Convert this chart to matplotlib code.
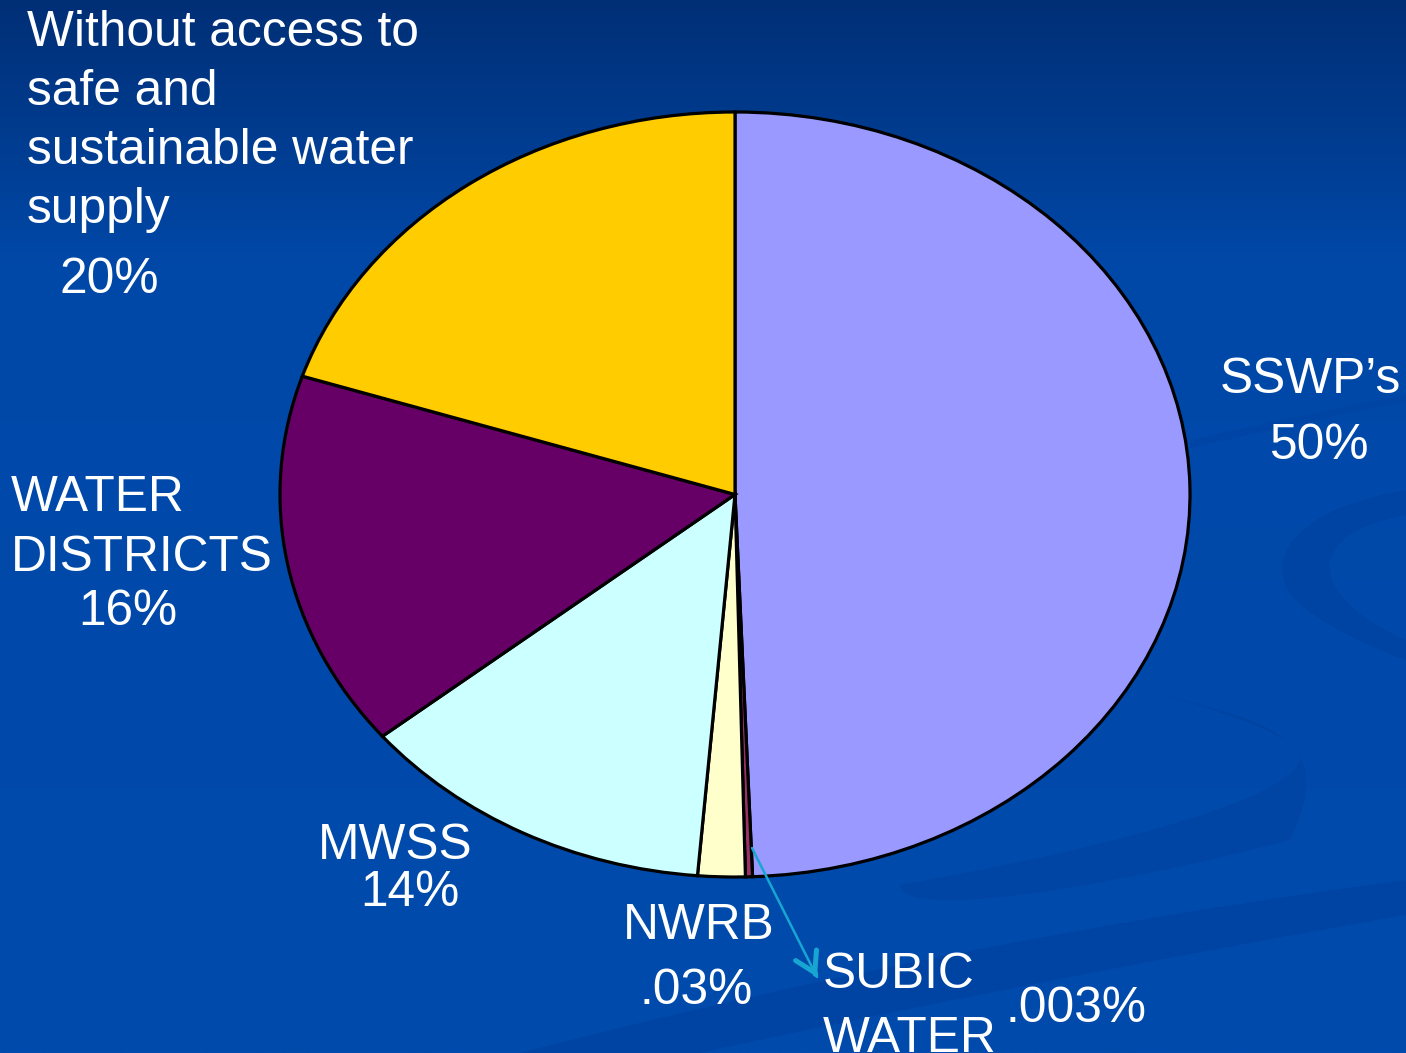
import numpy as np
import matplotlib
matplotlib.use("Agg")
import matplotlib.pyplot as plt
from matplotlib.path import Path
from matplotlib.patches import PathPatch
from matplotlib.colors import to_rgb

# ---- data ----
categories = ["SSWP's", "SUBIC WATER", "NWRB", "MWSS", "WATER DISTRICTS",
              "Without access to safe and sustainable water supply"]
values = [49.4, 0.25, 1.68, 12.8, 15.9, 20.0]
label_pcts = ["50%", ".003%", ".03%", "14%", "16%", "20%"]
slice_colors = ["#9999ff", "#993366", "#ffffcc", "#ccffff", "#660066", "#ffcc00"]

W, H = 1406, 1053
plt.rcParams['font.family'] = ['Liberation Sans', 'DejaVu Sans']
fig = plt.figure(figsize=(W / 100, H / 100), dpi=100)

# ---- background ----
bg = fig.add_axes([0, 0, 1, 1], zorder=0)
bg.set_xlim(0, W)
bg.set_ylim(H, 0)
bg.axis('off')
ys = np.linspace(0, 1, 300)
c_top = np.array(to_rgb("#002f76"))
c_mid = np.array(to_rgb("#0048a8"))
c_bot = np.array(to_rgb("#004bad"))
grad = np.zeros((300, 2, 3))
for i, t in enumerate(ys):
    if t < 0.25:
        c = c_top + (c_mid - c_top) * (t / 0.25)
    else:
        c = c_mid + (c_bot - c_mid) * ((t - 0.25) / 0.75)
    grad[i, :, :] = c
bg.imshow(grad, extent=(0, W, H, 0), aspect='auto', interpolation='bilinear')

swoosh_col = "#00409c"
def band(verts, codes, alpha=0.5):
    bg.add_patch(PathPatch(Path(verts, codes), facecolor=swoosh_col,
                           edgecolor='none', alpha=alpha))

M, C, L, Z = Path.MOVETO, Path.CURVE4, Path.LINETO, Path.CLOSEPOLY
# long lower band
band([(520, 1053), (800, 980), (1100, 920), (1406, 880), (1406, 915),
      (1120, 965), (850, 1020), (700, 1053), (520, 1053)],
     [M, C, C, C, L, C, C, C, Z])
# hook band
band([(900, 885), (1100, 850), (1290, 800), (1300, 760),
      (1305, 735), (1200, 705), (1130, 685),
      (1220, 710), (1330, 740), (1312, 790),
      (1290, 840), (1100, 890), (900, 920), (900, 885)],
     [M, C, C, C, C, C, C, L, C, C, C, C, C, Z], alpha=0.45)
# right-side hook
band([(1406, 490), (1320, 505), (1270, 540), (1285, 585),
      (1295, 610), (1350, 640), (1406, 660),
      (1406, 640), (1360, 620), (1325, 590), (1330, 560),
      (1340, 530), (1380, 520), (1406, 515), (1406, 490)],
     [M, C, C, C, C, C, C, L, C, C, C, C, C, C, Z], alpha=0.45)
# faint upper streaks
band([(1190, 440), (1280, 420), (1350, 405), (1406, 395), (1406, 402),
      (1350, 412), (1280, 428), (1190, 448), (1190, 440)],
     [M, C, C, C, L, C, C, C, Z], alpha=0.3)

# ---- pie (ellipse) ----
left, right, top, bottom = 280, 1190, 112, 877
ax = fig.add_axes([left / W, 1 - bottom / H, (right - left) / W, (bottom - top) / H],
                  zorder=2)
wedges, _ = ax.pie(values, colors=slice_colors, startangle=90, counterclock=False,
                   wedgeprops=dict(edgecolor='black', linewidth=2.3))
for w in wedges:
    w.set_clip_on(False)
ax.set_aspect('auto')
ax.set_xlim(-1, 1)
ax.set_ylim(-1, 1)
ax.axis('off')

# ---- labels overlay ----
ov = fig.add_axes([0, 0, 1, 1], zorder=3)
ov.set_xlim(0, W)
ov.set_ylim(H, 0)
ov.axis('off')
ov.patch.set_visible(False)

fs = 35.7
def t(x, y, s):
    ov.text(x, y, s, color='white', fontsize=fs, ha='left', va='baseline')

t(27, 46, "Without access to")
t(27, 105, "safe and")
t(27, 164, "sustainable water")
t(27, 223, "supply")
t(60, 293, label_pcts[5])

t(1220, 393, "SSWP\u2019s")
t(1269, 459, label_pcts[0])

t(11, 511, "WATER")
t(11, 571, "DISTRICTS")
t(78, 625, label_pcts[4])

t(318, 859, "MWSS")
t(360, 906, label_pcts[3])

t(623, 939, "NWRB")
t(639, 1004, label_pcts[2])

t(823, 988, "SUBIC")
t(823, 1052, "WATER")
t(1005, 1022, label_pcts[1])

arrow_col = '#17a6d2'
start = np.array([752.0, 848.0])
tip = np.array([817.0, 977.0])
ov.annotate("", xy=tuple(tip), xytext=tuple(start),
            arrowprops=dict(arrowstyle='-', lw=1.8, color=arrow_col,
                            shrinkA=0, shrinkB=0))
d = (tip - start) / np.linalg.norm(tip - start)
ov.annotate("", xy=tuple(tip), xytext=tuple(tip - 3 * d),
            arrowprops=dict(arrowstyle='->,head_length=0.7,head_width=0.42',
                            mutation_scale=20, lw=3.6, color=arrow_col,
                            capstyle='round', joinstyle='round',
                            shrinkA=0, shrinkB=0))

fig.savefig("out.png", dpi=100)
